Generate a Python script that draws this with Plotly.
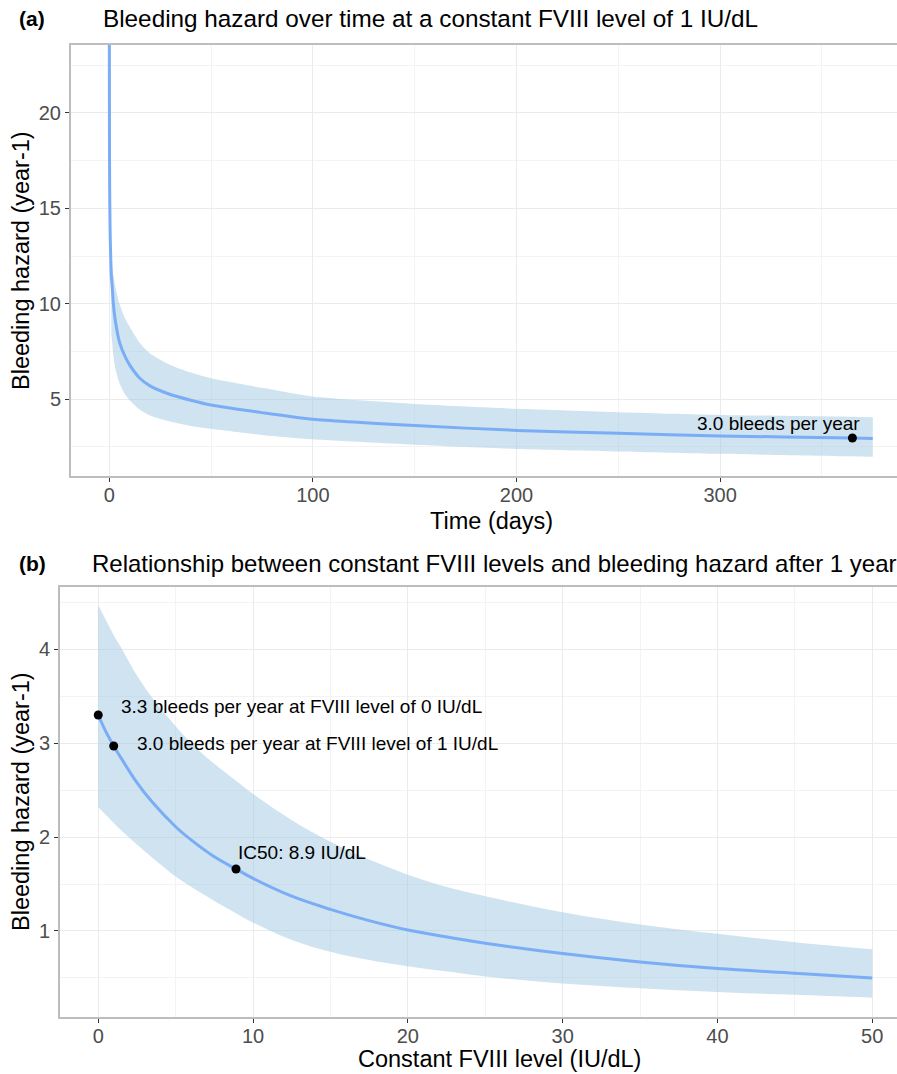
import plotly.graph_objects as go

W, H = 897, 1074

# ---------------- Panel (a) data: hazard over time at 1 IU/dL ----------------
time_mean = [0.03, 0.06, 0.1, 0.2, 0.35, 0.5, 0.75, 1, 1.5, 2, 3, 5, 7.5, 10, 15, 20,
             30, 40, 50, 75, 100, 150, 200, 250, 300, 365, 375]
hazard_mean = [25.0, 21.0, 18.5, 16.0, 14.3, 13.3, 12.3, 11.5, 10.8, 10.0, 9.1, 8.0,
               7.3, 6.8, 6.1, 5.7, 5.25, 4.95, 4.7, 4.3, 3.95, 3.62, 3.37, 3.22, 3.08,
               2.97, 2.95]

time_band = [1, 1.5, 2, 3, 5, 7.5, 10, 15, 20, 30, 40, 50, 75, 100, 150, 200, 250,
             300, 365, 375]
hazard_upper = [12.2, 11.9, 11.5, 10.9, 10.0, 9.3, 8.8, 7.95, 7.4, 6.8, 6.4, 6.1, 5.6,
                5.14, 4.75, 4.5, 4.32, 4.18, 4.08, 4.06]
hazard_lower = [8.4, 7.9, 7.3, 6.6, 5.85, 5.3, 4.95, 4.45, 4.15, 3.83, 3.6, 3.45, 3.13,
                2.9, 2.62, 2.4, 2.27, 2.14, 2.01, 1.99]

point_a_x = [365]
point_a_y = [2.97]
point_a_label = "3.0 bleeds per year"

# ---------------- Panel (b) data: hazard vs constant FVIII level ----------------
fviii_level = [0, 0.5, 1, 1.5, 2.5, 3.5, 5, 6, 7.5, 8.9, 10, 12.5, 15, 17.5, 20, 22.7,
               25, 30, 35, 40, 45, 50]
hazard_b_mean = [3.30, 3.12, 2.97, 2.835, 2.58, 2.37, 2.11, 1.97, 1.79, 1.66, 1.56,
                 1.37, 1.23, 1.11, 1.01, 0.93, 0.87, 0.76, 0.67, 0.60, 0.55, 0.50]
hazard_b_upper = [4.47, 4.31, 4.15, 4.01, 3.72, 3.48, 3.18, 3.00, 2.78, 2.60, 2.46,
                  2.18, 1.95, 1.76, 1.60, 1.46, 1.37, 1.20, 1.07, 0.97, 0.88, 0.805]
hazard_b_lower = [2.32, 2.235, 2.15, 2.07, 1.92, 1.78, 1.58, 1.47, 1.32, 1.19, 1.09,
                  0.905, 0.78, 0.69, 0.625, 0.565, 0.515, 0.44, 0.39, 0.35, 0.32, 0.29]

points_b_x = [0, 1, 8.9]
points_b_y = [3.30, 2.97, 1.66]
points_b_labels = ["3.3 bleeds per year at FVIII level of 0 IU/dL",
                   "3.0 bleeds per year at FVIII level of 1 IU/dL",
                   "IC50: 8.9 IU/dL"]

# ---------------- styling ----------------
LINE_COLOR = "#7AADF5"
BAND_COLOR = "rgba(160,200,225,0.5)"
GRID = "#EBEBEB"
GRID_MINOR = "#F3F3F3"
BORDER = "#BDBDBD"
FONT = "Arial, Liberation Sans, sans-serif"
TICKFONT = dict(family=FONT, size=20, color="#4D4D4D")


def fx(p):
    return p / W


def fy(p):
    return 1 - p / H


fig = go.Figure()

# Panel (a)
fig.add_trace(go.Scatter(x=time_band, y=hazard_upper, mode="lines", line=dict(width=0, shape="spline", smoothing=0.6),
                         xaxis="x", yaxis="y", showlegend=False, hoverinfo="skip"))
fig.add_trace(go.Scatter(x=time_band, y=hazard_lower, mode="lines", line=dict(width=0, shape="spline", smoothing=0.6),
                         fill="tonexty", fillcolor=BAND_COLOR,
                         xaxis="x", yaxis="y", showlegend=False, hoverinfo="skip"))
fig.add_trace(go.Scatter(x=time_mean, y=hazard_mean, mode="lines",
                         line=dict(color=LINE_COLOR, width=3, shape="spline", smoothing=0.6),
                         xaxis="x", yaxis="y", showlegend=False))
fig.add_trace(go.Scatter(x=point_a_x, y=point_a_y, mode="markers",
                         marker=dict(color="black", size=9),
                         xaxis="x", yaxis="y", showlegend=False))

# Panel (b)
fig.add_trace(go.Scatter(x=fviii_level, y=hazard_b_upper, mode="lines", line=dict(width=0, shape="spline"),
                         xaxis="x2", yaxis="y2", showlegend=False, hoverinfo="skip"))
fig.add_trace(go.Scatter(x=fviii_level, y=hazard_b_lower, mode="lines", line=dict(width=0, shape="spline"),
                         fill="tonexty", fillcolor=BAND_COLOR,
                         xaxis="x2", yaxis="y2", showlegend=False, hoverinfo="skip"))
fig.add_trace(go.Scatter(x=fviii_level, y=hazard_b_mean, mode="lines",
                         line=dict(color=LINE_COLOR, width=3, shape="spline"),
                         xaxis="x2", yaxis="y2", showlegend=False))
fig.add_trace(go.Scatter(x=points_b_x, y=points_b_y, mode="markers",
                         marker=dict(color="black", size=9),
                         xaxis="x2", yaxis="y2", showlegend=False))


def axis_cfg(domain, rng, ticks, minor, anchor, is_x):
    cfg = dict(domain=domain, range=rng, tickvals=ticks, anchor=anchor, automargin=False,
               showgrid=True, gridcolor=GRID, gridwidth=1.3,
               minor=dict(tickvals=minor, showgrid=True, gridcolor=GRID_MINOR, gridwidth=1, ticklen=0),
               showline=True, linecolor=BORDER, linewidth=2, mirror=is_x,
               ticks="outside", ticklen=4, tickcolor="#333333", tickwidth=1,
               tickfont=TICKFONT, zeroline=False)
    if is_x:
        cfg["ticklabelstandoff"] = -4
    return cfg


fig.update_layout(
    width=W, height=H,
    margin=dict(l=0, r=0, t=0, b=0, autoexpand=False),
    paper_bgcolor="white", plot_bgcolor="white",
    xaxis=axis_cfg([fx(71), 1], [-18.8, 386.9], [0, 100, 200, 300], [50, 150, 250, 350], "y", True),
    yaxis=axis_cfg([fy(476), fy(45)], [0.98, 23.56], [5, 10, 15, 20], [2.5, 7.5, 12.5, 17.5, 22.5], "x", False),
    xaxis2=axis_cfg([fx(60), 1], [-2.47, 51.6], [0, 10, 20, 30, 40, 50], [5, 15, 25, 35, 45], "y2", True),
    yaxis2=axis_cfg([fy(1016.7), fy(587.3)], [0.087, 4.66], [1, 2, 3, 4], [0.5, 1.5, 2.5, 3.5, 4.5], "x2", False),
)

ann = []
# Panel tags and titles
ann.append(dict(x=fx(17), y=fy(18), xref="paper", yref="paper", text="<b>(a)</b>", showarrow=False,
                xanchor="left", yanchor="middle", font=dict(family=FONT, size=21, color="black")))
ann.append(dict(x=fx(101), y=fy(18), xref="paper", yref="paper",
                text="Bleeding hazard over time at a constant FVIII level of 1 IU/dL", showarrow=False,
                xanchor="left", yanchor="middle", font=dict(family=FONT, size=24.3, color="black")))
ann.append(dict(x=fx(17), y=fy(563), xref="paper", yref="paper", text="<b>(b)</b>", showarrow=False,
                xanchor="left", yanchor="middle", font=dict(family=FONT, size=21, color="black")))
ann.append(dict(x=fx(90), y=fy(563), xref="paper", yref="paper",
                text="Relationship between constant FVIII levels and bleeding hazard after 1 year", showarrow=False,
                xanchor="left", yanchor="middle", font=dict(family=FONT, size=24, color="black")))
# Axis titles
ann.append(dict(x=fx(492), y=fy(521), xref="paper", yref="paper", text="Time (days)", showarrow=False,
                xanchor="center", yanchor="middle", font=dict(family=FONT, size=23.5, color="black")))
ann.append(dict(x=fx(499), y=fy(1059), xref="paper", yref="paper", text="Constant FVIII level (IU/dL)",
                showarrow=False, xanchor="center", yanchor="middle",
                font=dict(family=FONT, size=23.5, color="black")))
ann.append(dict(x=fx(21), y=fy(261), xref="paper", yref="paper", text="Bleeding hazard (year-1)",
                showarrow=False, textangle=-90, xanchor="center", yanchor="middle",
                font=dict(family=FONT, size=23.5, color="black")))
ann.append(dict(x=fx(21), y=fy(802), xref="paper", yref="paper", text="Bleeding hazard (year-1)",
                showarrow=False, textangle=-90, xanchor="center", yanchor="middle",
                font=dict(family=FONT, size=23.5, color="black")))
# Point labels
ann.append(dict(x=point_a_x[0], y=point_a_y[0], xref="x", yref="y", text=point_a_label, showarrow=False,
                xanchor="right", yanchor="middle", xshift=10, yshift=15,
                font=dict(family=FONT, size=19, color="black")))
ann.append(dict(x=points_b_x[0], y=points_b_y[0], xref="x2", yref="y2", text=points_b_labels[0],
                showarrow=False, xanchor="left", yanchor="middle", xshift=21, yshift=8.5,
                font=dict(family=FONT, size=19, color="black")))
ann.append(dict(x=points_b_x[1], y=points_b_y[1], xref="x2", yref="y2", text=points_b_labels[1],
                showarrow=False, xanchor="left", yanchor="middle", xshift=21, yshift=2,
                font=dict(family=FONT, size=19, color="black")))
ann.append(dict(x=points_b_x[2], y=points_b_y[2], xref="x2", yref="y2", text=points_b_labels[2],
                showarrow=False, xanchor="left", yanchor="middle", xshift=0, yshift=17,
                font=dict(family=FONT, size=19, color="black")))
fig.update_layout(annotations=ann)

fig.write_html("out.html",
               config={"displayModeBar": False},
               post_script="document.body.style.margin='0';document.body.style.overflow='hidden';")
